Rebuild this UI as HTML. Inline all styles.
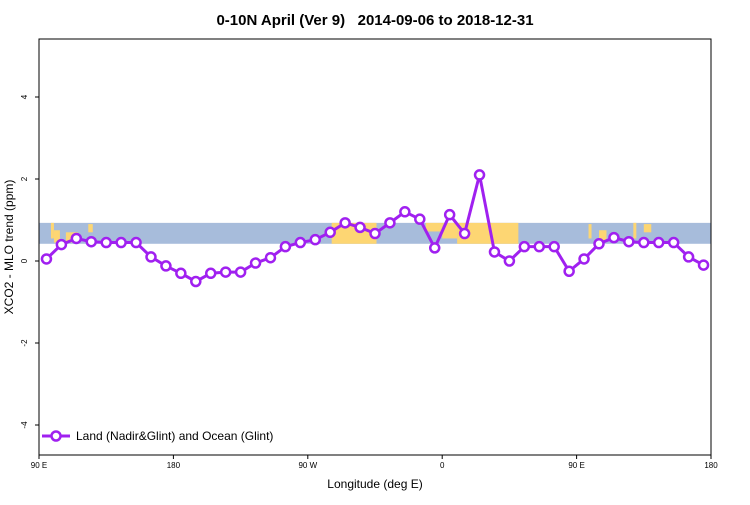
<!DOCTYPE html>
<html><head><meta charset="utf-8"><style>
body{margin:0;background:#fff;}
svg text{font-family:"Liberation Sans",sans-serif;}
</style></head><body>
<svg id="chart" width="750" height="500" viewBox="0 0 750 500" xmlns="http://www.w3.org/2000/svg">
<text x="375" y="25" text-anchor="middle" font-size="15" font-weight="bold" style="white-space:pre" xml:space="preserve">0-10N April (Ver 9)   2014-09-06 to 2018-12-31</text>
<g id="band"></g>
<g id="axes"></g>
<g id="series"></g>
<text x="375" y="488" text-anchor="middle" font-size="12">Longitude (deg E)</text>
<text transform="translate(13,247) rotate(-90)" text-anchor="middle" font-size="12">XCO2 - MLO trend (ppm)</text>
<g>
<line x1="42" y1="436" x2="70" y2="436" stroke="#a020f0" stroke-width="3"/>
<circle cx="56" cy="436" r="4.5" fill="#fff" stroke="#a020f0" stroke-width="2.5"/>
<text x="76" y="440" font-size="12">Land (Nadir&amp;Glint) and Ocean (Glint)</text>
</g>
</svg>
<script>
const lons = [95,105,115,125,135,145,155,165,175,185,195,205,215,225,235,245,255,265,275,285,295,305,315,325,335,345,355,365,375,385,395,405,415,425,435,445,455,465,475,485,495,505,515,525,535];
const values = [0.05,0.4,0.55,0.47,0.45,0.45,0.45,0.1,-0.12,-0.3,-0.5,-0.3,-0.27,-0.27,-0.05,0.08,0.35,0.45,0.52,0.7,0.93,0.82,0.67,0.93,1.2,1.02,0.32,1.13,0.67,2.1,0.22,0.0,0.35,0.35,0.35,-0.25,0.05,0.42,0.57,0.47,0.45,0.45,0.45,0.1,-0.1];
const xTickPos = [90,180,270,360,450,540];
const xTickLabels = ["90 E","180","90 W","0","90 E","180"];
const yTicks = [-4,-2,0,2,4];
const bandRange = [0.42,0.93];
// [lonStart, lonEnd, valueBottom, valueTop]
const landSpans = [[286,316,0.42,0.93],[349,360,0.72,0.93],[360,370,0.55,0.93],[370,411,0.42,0.93],[98,100,0.55,0.93],[100,104,0.45,0.75],[108,116,0.45,0.7],[123,126,0.7,0.9],[458,460,0.55,0.9],[465,470,0.45,0.75],[488,490,0.55,0.93],[495,500,0.7,0.9]];

const NS="http://www.w3.org/2000/svg";
const L=39,R=711,T=39,B=455;
const X=v=>L+(v-90)*(R-L)/450;
const Y=v=>261-v*41;
function mk(tag,attrs,parent){const e=document.createElementNS(NS,tag);for(const k in attrs)e.setAttribute(k,attrs[k]);parent.appendChild(e);return e;}
const band=document.getElementById('band');
let r=mk('rect',{x:L,y:Y(bandRange[1]),width:R-L,height:Y(bandRange[0])-Y(bandRange[1]),fill:'#a7bcdb'},band);


landSpans.forEach(s=>{
  const e=mk('rect',{x:X(s[0]),y:Y(s[3]),width:X(s[1])-X(s[0]),height:Y(s[2])-Y(s[3]),fill:'#fdd673'},band);
  
  
});
const axes=document.getElementById('axes');
let fr=mk('rect',{x:L,y:T,width:R-L,height:B-T,fill:'none',stroke:'#000','stroke-width':1},axes);


xTickPos.forEach((v,i)=>{
  mk('line',{x1:X(v),y1:B,x2:X(v),y2:B+4,stroke:'#000'},axes);
  const t=mk('text',{x:X(v),y:B+13,'text-anchor':'middle','font-size':'8'},axes);
  t.textContent=xTickLabels[i];
  
  
});
yTicks.forEach(v=>{
  mk('line',{x1:L-4,y1:Y(v),x2:L,y2:Y(v),stroke:'#000'},axes);
  const t=mk('text',{transform:`translate(${L-12},${Y(v)}) rotate(-90)`,'text-anchor':'middle','font-size':'8'},axes);
  t.textContent=v;
  
  
});
const s=document.getElementById('series');
const pl=mk('polyline',{points:lons.map((v,i)=>X(v)+','+Y(values[i])).join(' '),fill:'none',stroke:'#a020f0','stroke-width':3,'stroke-linejoin':'round'},s);


lons.forEach((v,i)=>{
  const c=mk('circle',{cx:X(v),cy:Y(values[i]),r:4.5,fill:'#fff',stroke:'#a020f0','stroke-width':2.5},s);
  
  
});
</script>
</body></html>
